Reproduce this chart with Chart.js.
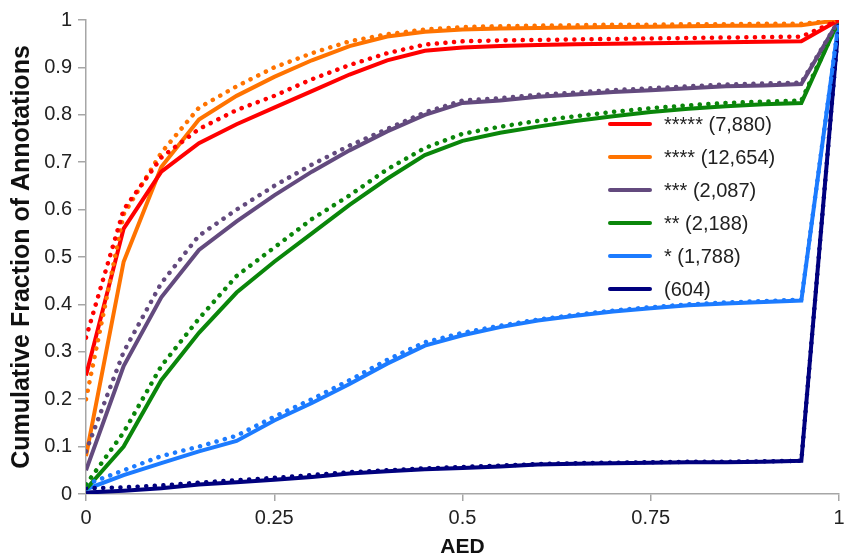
<!DOCTYPE html>
<html>
<head>
<meta charset="utf-8">
<script src="https://cdn.jsdelivr.net/npm/chart.js@4.4.1/dist/chart.umd.min.js"></script>
<style>
  html, body { margin: 0; padding: 0; background: #fff; }
</style>
</head>
<body>
<canvas id="aedChart" width="844" height="560"></canvas>
<script>
// AED 值 (x 軸)
const aedValues = [0, 0.05, 0.1, 0.15, 0.2, 0.25, 0.3, 0.35, 0.4, 0.45, 0.5,
                   0.55, 0.6, 0.65, 0.7, 0.75, 0.8, 0.85, 0.9, 0.95, 1];

const seriesLabels = ['***** (7,880)', '**** (12,654)', '*** (2,087)', '** (2,188)', '* (1,788)', '(604)'];
const seriesColors = ['#FF0000', '#FF7300', '#634A7E', '#0A860A', '#1C7BFF', '#00007E'];

const xTicks = [0, 0.25, 0.5, 0.75, 1];

// 實線
const fiveStar  = [0.25, 0.56, 0.68, 0.74, 0.78, 0.815, 0.85, 0.885, 0.915, 0.935, 0.942, 0.945, 0.947, 0.949, 0.95, 0.951, 0.952, 0.953, 0.954, 0.955, 1];
const fourStar  = [0.08, 0.49, 0.69, 0.79, 0.84, 0.88, 0.915, 0.945, 0.965, 0.975, 0.98, 0.982, 0.983, 0.984, 0.985, 0.986, 0.987, 0.988, 0.988, 0.989, 1];
const threeStar = [0.05, 0.27, 0.415, 0.515, 0.575, 0.63, 0.68, 0.725, 0.765, 0.8, 0.825, 0.83, 0.838, 0.843, 0.848, 0.852, 0.856, 0.86, 0.862, 0.865, 1];
const twoStar   = [0.01, 0.1, 0.24, 0.34, 0.425, 0.49, 0.55, 0.61, 0.665, 0.715, 0.745, 0.762, 0.775, 0.787, 0.797, 0.806, 0.813, 0.818, 0.822, 0.825, 1];
const oneStar   = [0.01, 0.04, 0.065, 0.09, 0.112, 0.155, 0.192, 0.232, 0.275, 0.313, 0.335, 0.352, 0.366, 0.376, 0.385, 0.392, 0.398, 0.402, 0.405, 0.408, 1];
const noStar    = [0.003, 0.007, 0.012, 0.02, 0.025, 0.03, 0.036, 0.043, 0.048, 0.052, 0.055, 0.058, 0.062, 0.064, 0.065, 0.066, 0.067, 0.067, 0.068, 0.07, 1];

// 虛線 (點線)
const fiveStarDot  = [0.33, 0.6, 0.71, 0.77, 0.81, 0.84, 0.875, 0.905, 0.93, 0.948, 0.955, 0.957, 0.958, 0.959, 0.96, 0.961, 0.962, 0.963, 0.964, 0.965, 1];
const fourStarDot  = [0.2, 0.59, 0.72, 0.815, 0.86, 0.9, 0.93, 0.955, 0.97, 0.98, 0.985, 0.987, 0.988, 0.989, 0.99, 0.99, 0.991, 0.991, 0.992, 0.992, 1];
const threeStarDot = [0.09, 0.3, 0.445, 0.545, 0.6, 0.65, 0.695, 0.735, 0.77, 0.805, 0.83, 0.835, 0.842, 0.847, 0.852, 0.856, 0.86, 0.864, 0.866, 0.868, 1];
const twoStarDot   = [0.02, 0.13, 0.27, 0.37, 0.46, 0.52, 0.58, 0.63, 0.685, 0.73, 0.76, 0.775, 0.787, 0.797, 0.806, 0.814, 0.82, 0.825, 0.828, 0.83, 1];
const oneStarDot   = [0.02, 0.05, 0.08, 0.1, 0.123, 0.163, 0.2, 0.24, 0.283, 0.32, 0.34, 0.355, 0.368, 0.378, 0.387, 0.394, 0.4, 0.404, 0.407, 0.41, 1];
const noStarDot    = [0.012, 0.014, 0.018, 0.024, 0.029, 0.034, 0.04, 0.046, 0.05, 0.054, 0.057, 0.06, 0.063, 0.065, 0.066, 0.067, 0.068, 0.068, 0.069, 0.07, 1];

const solidSeries = [fiveStar, fourStar, threeStar, twoStar, oneStar, noStar];
const dotSeries = [fiveStarDot, fourStarDot, threeStarDot, twoStarDot, oneStarDot, noStarDot];

function toPoints(values) {
    return values.map((v, i) => ({ x: aedValues[i], y: v }));
}

const datasets = [];
dotSeries.forEach((vals, i) => {
    datasets.push({
        label: seriesLabels[i] + ' dotted',
        data: toPoints(vals),
        borderColor: seriesColors[i],
        borderWidth: 4.5,
        borderDash: [0.1, 8.5],
        borderCapStyle: 'round',
        pointRadius: 0,
        fill: false,
        tension: 0,
        isDotted: true
    });
});
solidSeries.forEach((vals, i) => {
    datasets.push({
        label: seriesLabels[i],
        data: toPoints(vals),
        borderColor: seriesColors[i],
        borderWidth: 4,
        pointRadius: 0,
        fill: false,
        tension: 0
    });
});

// 圖內圖例
const insideLegend = {
    id: 'insideLegend',
    afterDraw(chart) {
        const ctx = chart.ctx;
        ctx.save();
        ctx.font = '20px "Liberation Sans", Arial, sans-serif';
        ctx.textBaseline = 'middle';
        ctx.textAlign = 'left';
        chart.data.datasets.filter(d => !d.isDotted).forEach((d, i) => {
            const y = 124 + i * 33;
            ctx.strokeStyle = d.borderColor;
            ctx.lineWidth = 4;
            ctx.lineCap = 'round';
            ctx.beginPath();
            ctx.moveTo(610, y);
            ctx.lineTo(650, y);
            ctx.stroke();
            ctx.fillStyle = '#222';
            ctx.fillText(d.label, 664, y + 1);
        });
        ctx.restore();
    }
};

const ctx = document.getElementById('aedChart').getContext('2d');
new Chart(ctx, {
    type: 'line',
    data: { datasets: datasets },
    options: {
        responsive: false,
        animation: false,
        layout: { padding: { top: 20, right: 0, left: 0, bottom: 0 } },
        plugins: { legend: { display: false }, tooltip: { enabled: false } },
        scales: {
            x: {
                type: 'linear',
                min: 0,
                max: 1,
                afterBuildTicks: axis => { axis.ticks = xTicks.map(v => ({ value: v })); },
                afterFit: axis => { axis.height = 66; axis.paddingRight = 5; },
                grid: { drawOnChartArea: false, drawTicks: true, tickLength: 7, color: '#A6A6A6', lineWidth: 1.5 },
                border: { color: '#A6A6A6', width: 1.5 },
                ticks: {
                    color: '#222',
                    font: { family: '"Liberation Sans", Arial, sans-serif', size: 20 },
                    padding: 5,
                    maxRotation: 0,
                    callback: v => String(v)
                },
                title: {
                    display: true,
                    text: 'AED',
                    color: '#111',
                    font: { family: '"Liberation Sans", Arial, sans-serif', size: 21, weight: 'bold' },
                    padding: { top: 0, bottom: 0 }
                }
            },
            y: {
                min: 0,
                max: 1,
                afterFit: axis => { axis.width = 86; },
                grid: { drawOnChartArea: false, drawTicks: true, tickLength: 8, color: '#A6A6A6', lineWidth: 1.5 },
                border: { color: '#A6A6A6', width: 1.5 },
                ticks: {
                    stepSize: 0.1,
                    color: '#222',
                    font: { family: '"Liberation Sans", Arial, sans-serif', size: 20 },
                    padding: 6,
                    callback: v => String(+v.toFixed(2))
                },
                title: {
                    display: true,
                    text: 'Cumulative Fraction of Annotations',
                    color: '#111',
                    font: { family: '"Liberation Sans", Arial, sans-serif', size: 25, weight: 'bold' },
                    padding: { top: 7, bottom: 0 }
                }
            }
        }
    },
    plugins: [insideLegend]
});
</script>
</body>
</html>
